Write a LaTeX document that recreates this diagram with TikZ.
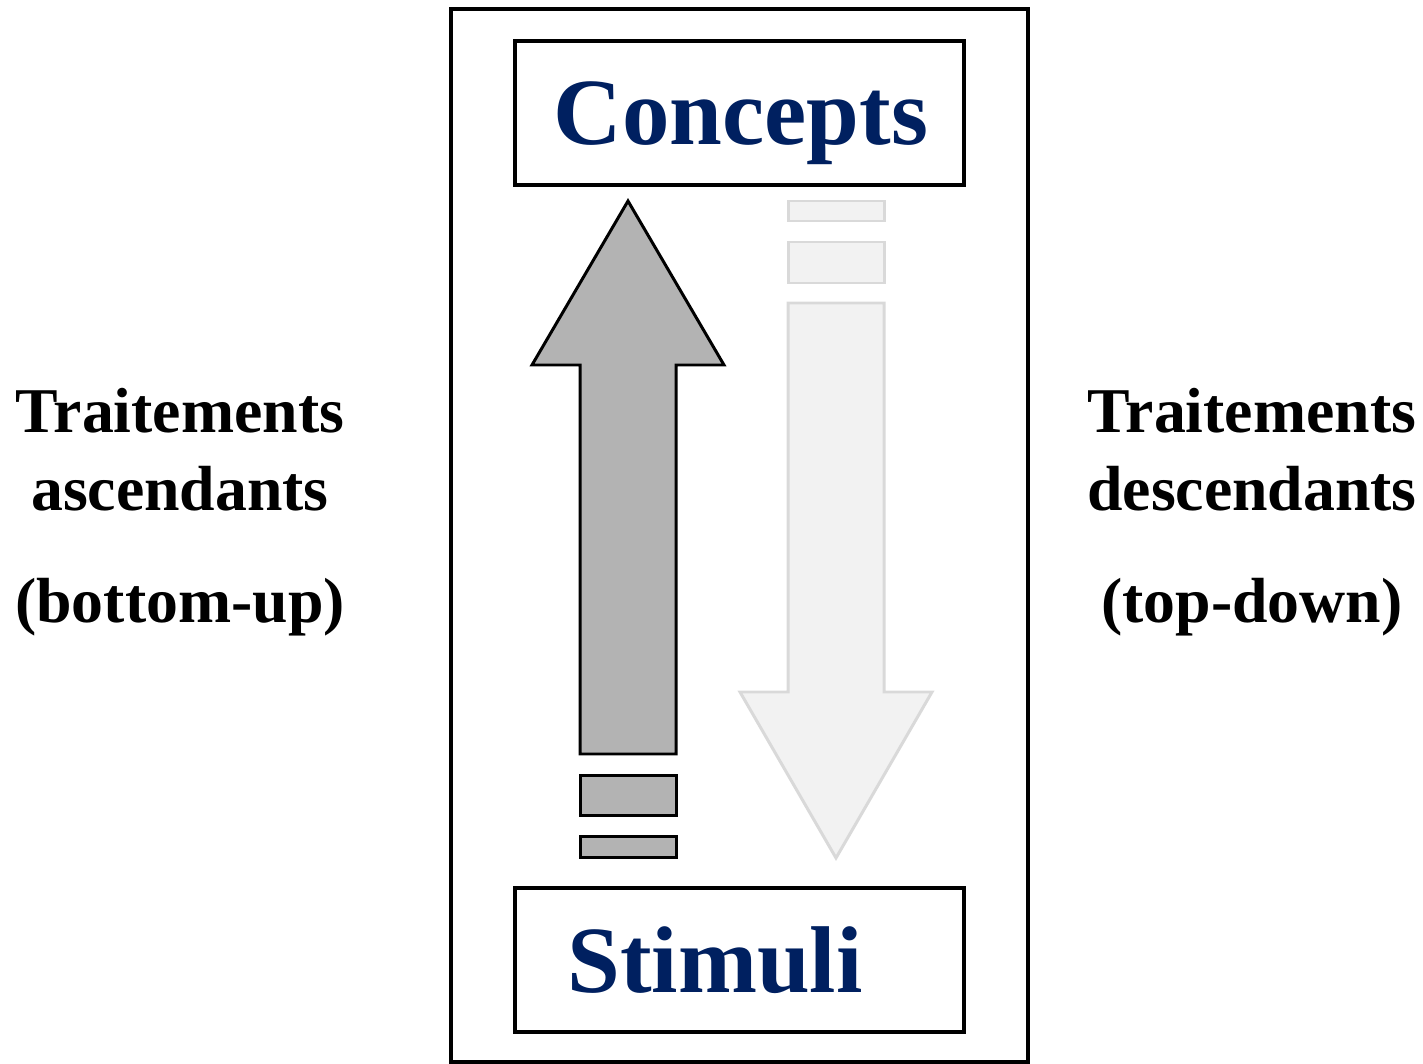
\documentclass[tikz,border=0pt]{standalone}
\usepackage{fontspec}
\setmainfont{Liberation Serif}
\definecolor{navy}{HTML}{002060}
\definecolor{upgray}{HTML}{B3B3B3}
\definecolor{downfill}{HTML}{F2F2F2}
\definecolor{downline}{HTML}{D9D9D9}

\tikzset{
  levelbox/.style={draw, line width=2.2pt, rectangle, minimum width=8.98cm, minimum height=2.88cm, inner sep=0pt},
  leveltext/.style={anchor=base, text=navy, font=\fontsize{54}{60}\selectfont\bfseries},
  sidetext/.style={anchor=base, font=\fontsize{36.3}{40}\selectfont\bfseries},
  uparrow/.style={fill=upgray, draw=black, line width=1.7pt},
  downarrow/.style={fill=downfill, draw=downline, line width=1.7pt}
}

\begin{document}
\begin{tikzpicture}[x=0.02cm, y=-0.02cm]
      \useasboundingbox (0,0) rectangle (1423,1064);

      % frame
      \draw[line width=2.2pt] (451,9) rectangle (1028,1062);

      \node[levelbox] (concepts) at (739.5,113){};
      \node[levelbox] (stimuli) at (739.5,960){};
      \node[leveltext] (conceptsText) at (741,145){Concepts};
      \node[leveltext] (stimuliText) at (715,992){Stimuli};

      % bottom-up arrow
      \draw[uparrow] (628,201) -- (724,365) -- (676,365) -- (676,754) -- (580,754)
        -- (580,365) -- (532,365) -- cycle;
      \draw[uparrow] (580,775) rectangle (676,815);
      \draw[uparrow] (580,836) rectangle (676,857);

      % top-down arrow
      \draw[downarrow] (788,201) rectangle (884,221);
      \draw[downarrow] (788,242) rectangle (884,283);
      \draw[downarrow] (788,303) -- (884,303) -- (884,692) -- (932,692) -- (836,858)
        -- (740,692) -- (788,692) -- cycle;

      \node[sidetext] (asc1) at (180,432){Traitements};
      \node[sidetext] (asc2) at (180,510){ascendants};
      \node[sidetext] (asc3) at (180,622){(bottom-up)};

      \node[sidetext] (desc1) at (1252,432){Traitements};
      \node[sidetext] (desc2) at (1252,510){descendants};
      \node[sidetext] (desc3) at (1252,622){(top-down)};
\end{tikzpicture}
\end{document}
